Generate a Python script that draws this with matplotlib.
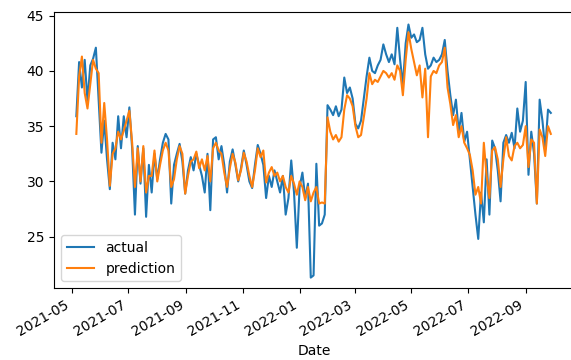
import numpy as np
import pandas as pd
import matplotlib
matplotlib.use("Agg")
import matplotlib.pyplot as plt
import matplotlib.dates as mdates

# Values, one every 3 days from 2021-05-06
start_date = "2021-05-06"
step = "3D"

actual = [
    35.9, 40.8, 38.5, 41.0, 37.3, 40.5, 41.1, 42.1, 37.3, 32.6,
    35.5, 32.0, 29.3, 33.5, 32.0, 35.9, 33.0, 35.9, 34.0, 36.7,
    33.0, 27.0, 33.2, 29.8, 33.0, 26.8, 31.5, 29.0, 32.5, 30.2,
    32.0, 33.5, 34.3, 33.8, 28.0, 31.5, 32.5, 33.4, 31.8, 28.9,
    31.0, 32.2, 31.0, 32.5, 31.5, 30.5, 29.0, 32.5, 27.4, 33.8,
    34.0, 32.0, 33.2, 31.5, 29.0, 31.8, 32.9, 31.5, 30.0, 31.2,
    32.8, 31.5, 30.0, 29.4, 31.5, 33.3, 32.5, 31.5, 28.5, 30.5,
    29.5, 31.0, 30.0, 29.0, 30.5, 27.0, 28.5, 31.9, 29.0, 24.0,
    29.5, 30.8, 28.5, 29.8, 21.3, 21.5, 31.6, 26.0, 26.2, 27.0,
    36.9, 36.5, 36.0, 36.8, 35.9, 36.5, 39.4, 38.0, 38.5, 37.5,
    35.2, 34.8, 35.5, 37.5, 39.5, 41.2, 40.0, 39.8, 40.5, 41.0,
    42.4, 41.5, 40.8, 41.5, 40.6, 43.9, 41.0, 38.7, 42.5, 44.2,
    43.0, 43.3, 42.6, 42.8, 43.9, 41.5, 40.2, 40.5, 41.2, 40.8,
    41.0, 41.5, 42.8, 40.0, 37.8, 36.0, 37.4, 34.5, 36.2, 33.6,
    34.5, 32.0, 29.5, 27.0, 24.8, 29.0, 26.3, 32.0, 27.0, 33.7,
    33.0, 31.0, 28.2, 33.5, 34.2, 33.5, 34.4, 33.0, 36.6, 34.5,
    35.5, 39.0, 30.6, 34.5, 32.5, 28.0, 37.4, 35.5, 32.9, 36.5,
    36.2,
]

prediction = [
    34.3, 39.5, 41.3, 38.0, 36.6, 38.8, 41.0, 40.2, 39.8, 33.5,
    37.1, 33.8, 29.6, 32.5, 33.0, 34.5, 33.8, 34.6, 35.5, 36.4,
    33.5, 29.5, 33.0, 30.0, 33.2, 29.0, 30.5, 30.5, 32.8, 30.0,
    31.5, 32.8, 33.5, 32.8, 29.5, 30.2, 32.0, 33.2, 32.5, 28.9,
    30.5, 31.8, 32.0, 32.7, 31.2, 32.0, 31.0, 32.3, 30.0, 33.0,
    33.5, 32.8, 32.5, 30.8, 29.5, 31.2, 32.5, 31.7, 30.1, 31.0,
    32.6, 31.8, 30.5, 29.5, 31.0, 33.0, 32.2, 32.8, 29.9, 30.8,
    31.3, 30.5, 30.8, 30.0, 30.5, 29.5, 29.0, 30.5, 29.8, 28.8,
    30.0, 29.5, 28.3, 29.5, 28.2, 29.0, 29.5, 28.0, 28.1, 28.0,
    35.8, 34.5, 33.8, 34.2, 33.6, 34.0, 36.5, 37.8, 37.5, 36.8,
    35.0, 34.0, 34.2, 35.8, 37.5, 39.8, 38.8, 39.2, 39.0, 39.5,
    40.0, 39.8, 39.4, 39.8, 39.2, 40.5, 40.0, 37.8, 41.0, 43.5,
    42.0, 40.8, 39.6, 40.5, 37.6, 40.2, 34.0, 39.5, 40.0, 39.8,
    40.5, 40.8, 42.1, 38.5, 37.0, 35.1, 36.0, 34.0, 35.0, 33.5,
    33.0, 32.4, 31.0, 28.8, 29.5, 28.0, 33.5, 30.5, 28.5, 32.8,
    33.1, 32.0, 29.5, 32.0, 34.0, 32.3, 31.9, 33.2, 33.5, 33.0,
    33.3, 35.0, 31.3, 33.8, 33.5, 28.0, 34.7, 34.0, 32.3, 35.0,
    34.3,
]

dates = pd.date_range(start_date, periods=len(actual), freq=step)

fig = plt.figure(figsize=(5.71, 3.6), dpi=100)
ax = fig.add_axes([54 / 571, 1 - 288 / 360, (575 - 54) / 571, (288 - 12) / 360])

ax.plot(dates, actual, label="actual")
ax.plot(dates, prediction, label="prediction")

ax.set_xlim(pd.Timestamp("2021-04-12"), pd.Timestamp("2022-10-24"))
ax.set_ylim(20.36, 45.33)
ax.set_yticks([25, 30, 35, 40, 45])

ax.xaxis.set_major_locator(mdates.MonthLocator(bymonth=[1, 3, 5, 7, 9, 11]))
ax.xaxis.set_major_formatter(mdates.DateFormatter("%Y-%m"))
for lbl in ax.get_xticklabels():
    lbl.set_rotation(30)
    lbl.set_ha("right")

ax.set_xlabel("Date")
ax.legend(loc="lower left")

fig.savefig("out.png", dpi=100)
